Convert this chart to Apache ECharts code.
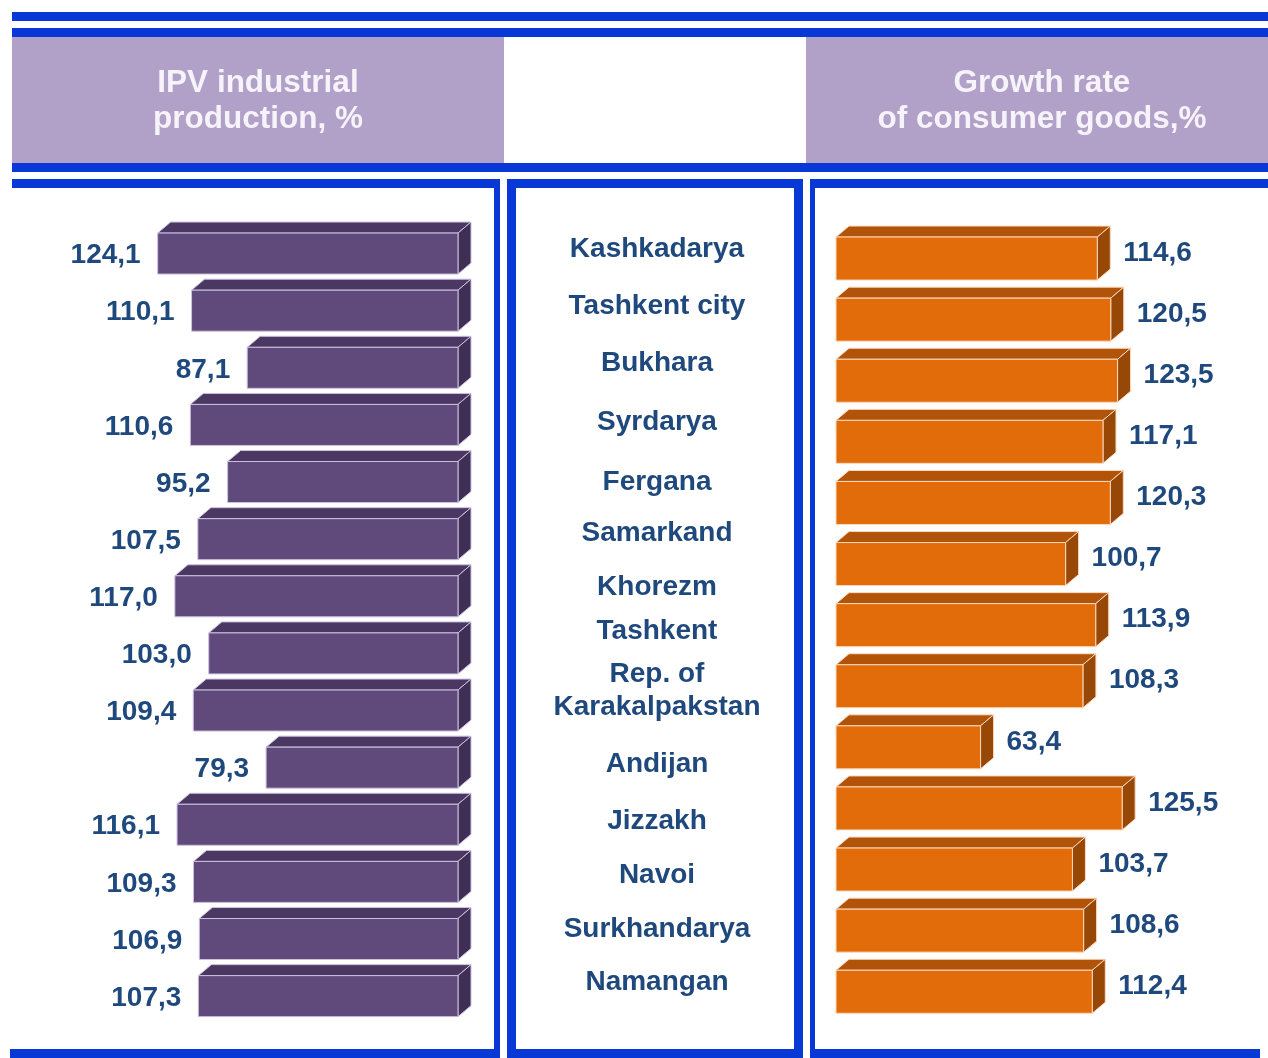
<!DOCTYPE html>
<html>
<head>
<meta charset="utf-8">
<title>Regional growth indicators</title>
<script src="https://cdn.jsdelivr.net/npm/echarts@6/dist/echarts.min.js"></script>
<style>
  html, body { margin: 0; padding: 0; background: #ffffff; }
  #chart { width: 1268px; height: 1058px; }
</style>
</head>
<body>
<div id="chart"></div>
<script>
// ---- data ----
const regions = [
  'Kashkadarya', 'Tashkent city', 'Bukhara', 'Syrdarya', 'Fergana', 'Samarkand',
  'Khorezm', 'Tashkent', 'Rep. of\nKarakalpakstan', 'Andijan', 'Jizzakh', 'Navoi',
  'Surkhandarya', 'Namangan'
];
const ipvValues = [124.1, 110.1, 87.1, 110.6, 95.2, 107.5, 117.0, 103.0, 109.4, 79.3, 116.1, 109.3, 106.9, 107.3];
const consumerValues = [114.6, 120.5, 123.5, 117.1, 120.3, 100.7, 113.9, 108.3, 63.4, 125.5, 103.7, 108.6, 112.4];
const ipvTitle = ['IPV industrial', 'production, %'];
const consumerTitle = ['Growth rate', 'of consumer goods,%'];

// ---- styling ----
const FONT = '"Liberation Sans", Arial, Helvetica, sans-serif';
const LABEL_COLOR = '#1F497D';
const FRAME_BLUE = '#0839D6';
const HEADER_FILL = '#B1A0C7';
const PURPLE = { front: '#604A7B', top: '#4A3862', side: '#3F2F55', edge: '#CDBFE0' };
const ORANGE = { front: '#E36C0A', top: '#B15308', side: '#974706', edge: '#FCD8BC' };
const DEPTH_X = 13, DEPTH_Y = 11;
// vertical fine-tuning (px) of the region names in the middle column
const regionNudge = [2, 3, 3, 6, 10, 4, 2, -11, -7, 10, 10, 8, 5, 2];

const fmt = v => v.toFixed(1).replace('.', ',');

// Draws a prism-like bar between two x positions, centred on cy.
function prism(xl, xr, cy, h, c) {
  const yt = cy - h / 2, yb = cy + h / 2;
  return [
    { type: 'polygon', shape: { points: [[xl, yt], [xr, yt], [xr + DEPTH_X, yt - DEPTH_Y], [xl + DEPTH_X, yt - DEPTH_Y]] },
      style: { fill: c.top, stroke: c.edge, lineWidth: 1 } },
    { type: 'polygon', shape: { points: [[xr, yt], [xr + DEPTH_X, yt - DEPTH_Y], [xr + DEPTH_X, yb - DEPTH_Y], [xr, yb]] },
      style: { fill: c.side, stroke: c.edge, lineWidth: 1 } },
    { type: 'rect', shape: { x: xl, y: yt, width: xr - xl, height: h },
      style: { fill: c.front, stroke: c.edge, lineWidth: 1 } }
  ];
}

function leftBar(params, api) {
  const v = api.value(0), i = api.value(1);
  const zero = api.coord([0, i]);
  const end = api.coord([v, i]);
  const h = 41;
  const children = prism(end[0], zero[0], zero[1], h, PURPLE);
  children.push({
    type: 'text',
    style: { text: fmt(v), x: end[0] - 17, y: zero[1] + 2, align: 'right', verticalAlign: 'middle',
             fontFamily: FONT, fontWeight: 'bold', fontSize: 28, fill: LABEL_COLOR }
  });
  return { type: 'group', children };
}

function rightBar(params, api) {
  const v = api.value(0), i = api.value(1);
  const zero = api.coord([0, i]);
  const end = api.coord([v, i]);
  const h = 43;
  const children = prism(zero[0], end[0], zero[1], h, ORANGE);
  children.push({
    type: 'text',
    style: { text: fmt(v), x: end[0] + DEPTH_X + 13, y: zero[1] - DEPTH_Y / 2, align: 'left', verticalAlign: 'middle',
             fontFamily: FONT, fontWeight: 'bold', fontSize: 28, fill: LABEL_COLOR }
  });
  return { type: 'group', children };
}

function regionLabel(params, api) {
  const i = api.value(1);
  const p = api.coord([0.5, i]);
  return {
    type: 'text',
    style: { text: regions[i], x: p[0], y: p[1] + regionNudge[i], align: 'center', verticalAlign: 'middle',
             fontFamily: FONT, fontWeight: 'bold', fontSize: 28, lineHeight: 33, fill: LABEL_COLOR }
  };
}

// ---- frame: header bands and panel borders ----
function rect(x, y, w, h, fill) {
  return { type: 'rect', silent: true, shape: { x, y, width: w, height: h }, style: { fill } };
}
function headerText(lines, cx) {
  return lines.map((t, k) => ({
    type: 'text', silent: true, z: 10,
    style: { text: t, x: cx, y: 83 + k * 36, align: 'center', verticalAlign: 'middle',
             fontFamily: FONT, fontWeight: 'bold', fontSize: 31.5, fill: '#F7F3FA' }
  }));
}
const frame = [
  rect(12, 12, 1256, 9, FRAME_BLUE),
  rect(12, 28, 1256, 9, FRAME_BLUE),
  rect(12, 37, 492, 126, HEADER_FILL),
  rect(806, 37, 462, 126, HEADER_FILL),
  rect(12, 163, 1256, 9, FRAME_BLUE),
  // left panel
  rect(12, 179, 488, 9, FRAME_BLUE),
  rect(494, 179, 6, 878, FRAME_BLUE),
  rect(10, 1049, 490, 9, FRAME_BLUE),
  // middle panel
  rect(507, 179, 296, 9, FRAME_BLUE),
  rect(507, 179, 9, 879, FRAME_BLUE),
  rect(794, 179, 9, 879, FRAME_BLUE),
  rect(507, 1049, 296, 9, FRAME_BLUE),
  // right panel
  rect(810, 179, 458, 9, FRAME_BLUE),
  rect(810, 179, 5, 879, FRAME_BLUE),
  rect(810, 1049, 450, 9, FRAME_BLUE)
].concat(headerText(ipvTitle, 258), headerText(consumerTitle, 1042));

// ---- chart ----
const chart = echarts.init(document.getElementById('chart'), null, { renderer: 'canvas' });
const hiddenAxis = { show: false };
chart.setOption({
  animation: false,
  backgroundColor: '#ffffff',
  graphic: { elements: frame },
  grid: [
    { left: 95, top: 225, width: 363, height: 799.7 },   // IPV bars, growing leftward
    { left: 516, top: 218.8, width: 282, height: 789.6 }, // region names
    { left: 836, top: 228, width: 342, height: 794.3 }    // consumer goods bars
  ],
  xAxis: [
    Object.assign({ type: 'value', gridIndex: 0, min: 0, max: 150, inverse: true }, hiddenAxis),
    Object.assign({ type: 'value', gridIndex: 1, min: 0, max: 1 }, hiddenAxis),
    Object.assign({ type: 'value', gridIndex: 2, min: 0, max: 150 }, hiddenAxis)
  ],
  yAxis: [
    Object.assign({ type: 'category', gridIndex: 0, inverse: true, data: regions }, hiddenAxis),
    Object.assign({ type: 'category', gridIndex: 1, inverse: true, data: regions }, hiddenAxis),
    Object.assign({ type: 'category', gridIndex: 2, inverse: true, data: consumerValues.map((_, i) => String(i)) }, hiddenAxis)
  ],
  series: [
    { type: 'custom', xAxisIndex: 0, yAxisIndex: 0, renderItem: leftBar,
      data: ipvValues.map((v, i) => [v, i]) },
    { type: 'custom', xAxisIndex: 1, yAxisIndex: 1, renderItem: regionLabel,
      data: regions.map((_, i) => [0.5, i]) },
    { type: 'custom', xAxisIndex: 2, yAxisIndex: 2, renderItem: rightBar,
      data: consumerValues.map((v, i) => [v, i]) }
  ]
});
</script>
</body>
</html>
